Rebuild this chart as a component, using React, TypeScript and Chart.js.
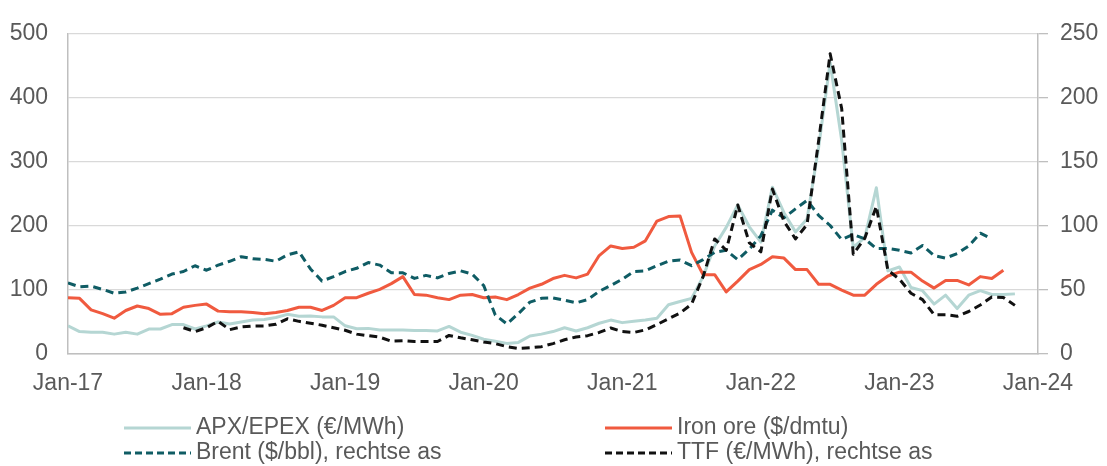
import React, { useEffect, useRef } from 'react';
import { Chart, registerables } from 'chart.js';

Chart.register(...registerables);

// X axis: month index from the first plotted month (index 0 = Jan-17 tick)
const xTickMonths = [0, 12, 24, 36, 48, 60, 72, 84];
const xTickLabels = ['Jan-17', 'Jan-18', 'Jan-19', 'Jan-20', 'Jan-21', 'Jan-22', 'Jan-23', 'Jan-24'];

const seriesNames = [
  'APX/EPEX (€/MWh)',
  'Iron ore ($/dmtu)',
  'Brent ($/bbl), rechtse as',
  'TTF (€/MWh), rechtse as',
];

// Left axis (0-500)
const apxValues = [
  43, 34, 33, 33, 30, 33, 30, 38, 38, 45, 45, 38,
  43, 49, 46, 49, 52, 53, 56, 61, 58, 58.5, 57, 57,
  43, 38.5, 39, 36.5, 36.5, 36.5, 35.5, 35.5, 35, 42, 33, 28,
  22, 19, 15.5, 17, 27, 30, 34, 40, 35, 40, 47, 52,
  48, 50, 52, 55, 76, 81, 86, 120, 168, 197, 232, 198,
  174, 260, 220, 190, 210, 322, 455, 333, 166, 181, 259, 129,
  135, 103, 98, 77, 91, 70, 91, 98, 92, 92, 93,
];

const ironOreValues = [
  87, 86, 68, 62, 55, 67, 74, 70, 61, 62, 72, 75,
  77, 66, 65, 65, 64, 62, 64, 67, 72, 72, 67, 75,
  87, 87, 94, 100, 109, 120, 92, 91, 87, 84, 91, 92,
  87, 88, 84, 92, 102, 108, 117, 122, 118, 124, 153, 168,
  164, 166, 176, 207, 214, 215, 158, 123, 123, 96, 113, 131,
  139, 151, 149, 131, 131, 108, 108, 99, 91, 91, 108, 121,
  127, 127, 113, 102, 114, 114, 107, 120, 117, 130,
];

// Right axis (0-250)
const brentValues = [
  55, 52, 52.5, 50, 47, 48, 51, 54.5, 58, 62, 64, 68.5,
  65, 69, 72, 75.6, 74, 73.5, 72, 77, 79.4, 66, 56.5, 60,
  64, 66.5, 71, 69, 63, 63, 58.6, 61, 59, 62.5, 64.5, 62,
  53, 30, 23, 31, 40, 43, 43.3, 41.5, 39.5, 42, 48.5, 53,
  58, 64, 64.5, 68.5, 72, 73, 68.6, 73.3, 79, 80.6, 73.3, 81.5,
  92, 112, 106, 113, 119.7, 108, 100, 89, 93, 89.5, 82, 82,
  80.6, 78.5, 84.4, 76.5, 74.5, 78, 84, 94, 89.5,
];

const ttfStartMonth = 10;
const ttfValues = [
  20, 17,
  20, 25, 18.5, 20.6, 21.4, 21.4, 22.7, 27, 25, 23.5, 22, 20,
  18, 15, 13.8, 12.6, 9.5, 9.8, 9.2, 9.2, 9.2, 14, 12.1, 10.6,
  8.8, 7.6, 5.2, 3.8, 4.3, 5.2, 7.6, 10.6, 12.8, 13.8, 16.3, 19.8,
  17, 16.3, 18.3, 22.5, 27, 31.5, 38.5, 60, 89.5, 80.6, 116, 86.5,
  79.4, 128.6, 103.3, 89.5, 100.8, 166, 234.4, 191.5, 77.5, 90, 115, 65,
  58, 47, 42, 30.2, 30.2, 29, 32.7, 37.8, 44.1, 43.7, 37.5,
];

const toPoints = (vals: number[], start = 0) => vals.map((v, i) => ({ x: start + i, y: v }));

const FONT = '"Liberation Sans", Arial, sans-serif';
const TEXT = '#595959';

const legendPlugin = {
  id: 'gridLegend',
  afterDraw(chart: any) {
    const { ctx } = chart;
    const slots = [
      { x: 124, y: 428 },
      { x: 605, y: 428 },
      { x: 124, y: 453 },
      { x: 605, y: 453 },
    ];
    const sampleW = 67;
    chart.data.datasets.forEach((ds: any, i: number) => {
      const s = slots[i];
      ctx.save();
      ctx.strokeStyle = ds.borderColor;
      ctx.lineWidth = 3;
      ctx.setLineDash(ds.borderDash ? [7, 4] : []);
      ctx.beginPath();
      ctx.moveTo(s.x, s.y);
      ctx.lineTo(s.x + sampleW, s.y);
      ctx.stroke();
      ctx.setLineDash([]);
      ctx.fillStyle = TEXT;
      ctx.font = `23px ${FONT}`;
      ctx.textBaseline = 'middle';
      ctx.textAlign = 'left';
      ctx.fillText(ds.label, s.x + sampleW + 5, s.y);
      ctx.restore();
    });
  },
};

export default function App() {
  const canvasRef = useRef<HTMLCanvasElement | null>(null);

  useEffect(() => {
    const canvas = canvasRef.current;
    if (!canvas) return;
    const chart = new Chart(canvas, {
      type: 'line',
      data: {
        datasets: [
          {
            label: seriesNames[0],
            data: toPoints(apxValues),
            borderColor: '#b5d6d3',
            borderWidth: 3,
            yAxisID: 'y',
            order: 4,
          },
          {
            label: seriesNames[1],
            data: toPoints(ironOreValues),
            borderColor: '#f05a3f',
            borderWidth: 3,
            yAxisID: 'y',
            order: 3,
          },
          {
            label: seriesNames[2],
            data: toPoints(brentValues),
            borderColor: '#0f5c64',
            borderWidth: 3,
            borderDash: [8, 5],
            yAxisID: 'y1',
            order: 2,
          },
          {
            label: seriesNames[3],
            data: toPoints(ttfValues, ttfStartMonth),
            borderColor: '#111111',
            borderWidth: 3,
            borderDash: [8, 5],
            yAxisID: 'y1',
            order: 1,
          },
        ],
      },
      options: {
        animation: false,
        responsive: true,
        maintainAspectRatio: false,
        elements: { point: { radius: 0 }, line: { tension: 0, borderJoinStyle: 'round', borderCapStyle: 'butt' } },
        layout: { padding: { top: 23, right: 0, bottom: 72.7, left: 0 } },
        plugins: { legend: { display: false }, tooltip: { enabled: false } },
        scales: {
          x: {
            type: 'linear',
            min: 0,
            max: 84,
            afterBuildTicks: (axis: any) => {
              axis.ticks = xTickMonths.map((v) => ({ value: v }));
            },
            afterFit: (s: any) => {
              s.height = 40;
            },
            ticks: {
              autoSkip: false,
              maxRotation: 0,
              padding: 17,
              color: TEXT,
              font: { size: 23, family: FONT },
              callback: (v: any) => {
                const idx = xTickMonths.indexOf(Number(v));
                return idx >= 0 ? xTickLabels[idx] : '';
              },
            },
            grid: { display: false, drawTicks: false },
            border: { display: true, color: '#bfbfbf', width: 1.5 },
          },
          y: {
            position: 'left',
            min: 0,
            max: 500,
            afterFit: (s: any) => {
              s.width = 68;
            },
            ticks: { stepSize: 100, padding: 20, color: TEXT, font: { size: 23, family: FONT } },
            grid: { color: '#d9d9d9', lineWidth: 1.3, drawTicks: false },
            border: { display: true, color: '#bfbfbf', width: 1.5 },
          },
          y1: {
            position: 'right',
            min: 0,
            max: 250,
            afterFit: (s: any) => {
              s.width = 69;
            },
            ticks: { stepSize: 50, padding: 12, color: TEXT, font: { size: 23, family: FONT } },
            grid: { drawOnChartArea: false, drawTicks: true, tickLength: 10, color: '#bfbfbf', lineWidth: 1.3 },
            border: { display: true, color: '#bfbfbf', width: 1.5 },
          },
        },
      },
      plugins: [legendPlugin],
    });
    return () => chart.destroy();
  }, []);

  return (
    <div style={{ position: 'absolute', left: 0, top: 0, width: 1107, height: 466, background: '#ffffff' }}>
      <canvas ref={canvasRef} />
    </div>
  );
}
